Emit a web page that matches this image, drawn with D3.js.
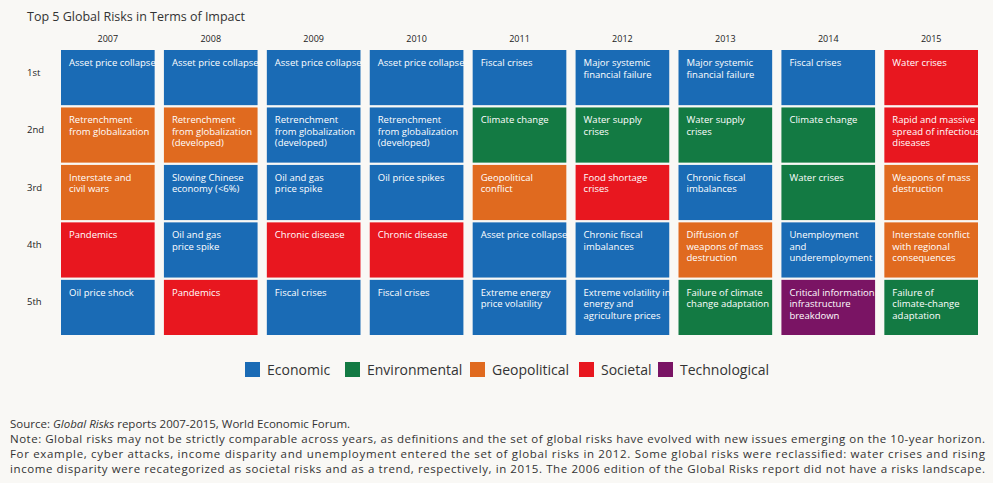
<!DOCTYPE html>
<html><head><meta charset="utf-8">
<script src="https://cdn.jsdelivr.net/npm/d3@7"></script>
<style>
body{margin:0;background:#f9f8f5;font-family:"Liberation Sans Narrow","Open Sans",sans-serif;}
</style></head><body>
<svg id="chart" width="993" height="483"></svg>
<script>
var years = ["2007","2008","2009","2010","2011","2012","2013","2014","2015"];
var ranks = ["1st","2nd","3rd","4th","5th"];
var categories = ["Economic","Environmental","Geopolitical","Societal","Technological"];
var colors = ["#1a6bb5","#137a43","#e06a1f","#e8171f","#7a1464"];
// [year, rank, category, label lines]
var risks = [
["2007","1st","Economic",["Asset price collapse"]],
["2007","2nd","Geopolitical",["Retrenchment","from globalization"]],
["2007","3rd","Geopolitical",["Interstate and","civil wars"]],
["2007","4th","Societal",["Pandemics"]],
["2007","5th","Economic",["Oil price shock"]],
["2008","1st","Economic",["Asset price collapse"]],
["2008","2nd","Geopolitical",["Retrenchment","from globalization","(developed)"]],
["2008","3rd","Economic",["Slowing Chinese","economy (<6%)"]],
["2008","4th","Economic",["Oil and gas","price spike"]],
["2008","5th","Societal",["Pandemics"]],
["2009","1st","Economic",["Asset price collapse"]],
["2009","2nd","Economic",["Retrenchment","from globalization","(developed)"]],
["2009","3rd","Economic",["Oil and gas","price spike"]],
["2009","4th","Societal",["Chronic disease"]],
["2009","5th","Economic",["Fiscal crises"]],
["2010","1st","Economic",["Asset price collapse"]],
["2010","2nd","Economic",["Retrenchment","from globalization","(developed)"]],
["2010","3rd","Economic",["Oil price spikes"]],
["2010","4th","Societal",["Chronic disease"]],
["2010","5th","Economic",["Fiscal crises"]],
["2011","1st","Economic",["Fiscal crises"]],
["2011","2nd","Environmental",["Climate change"]],
["2011","3rd","Geopolitical",["Geopolitical","conflict"]],
["2011","4th","Economic",["Asset price collapse"]],
["2011","5th","Economic",["Extreme energy","price volatility"]],
["2012","1st","Economic",["Major systemic","financial failure"]],
["2012","2nd","Environmental",["Water supply","crises"]],
["2012","3rd","Societal",["Food shortage","crises"]],
["2012","4th","Economic",["Chronic fiscal","imbalances"]],
["2012","5th","Economic",["Extreme volatility in","energy and","agriculture prices"]],
["2013","1st","Economic",["Major systemic","financial failure"]],
["2013","2nd","Environmental",["Water supply","crises"]],
["2013","3rd","Economic",["Chronic fiscal","imbalances"]],
["2013","4th","Geopolitical",["Diffusion of","weapons of mass","destruction"]],
["2013","5th","Environmental",["Failure of climate","change adaptation"]],
["2014","1st","Economic",["Fiscal crises"]],
["2014","2nd","Environmental",["Climate change"]],
["2014","3rd","Environmental",["Water crises"]],
["2014","4th","Economic",["Unemployment","and","underemployment"]],
["2014","5th","Technological",["Critical information","infrastructure","breakdown"]],
["2015","1st","Societal",["Water crises"]],
["2015","2nd","Societal",["Rapid and massive","spread of infectious","diseases"]],
["2015","3rd","Geopolitical",["Weapons of mass","destruction"]],
["2015","4th","Geopolitical",["Interstate conflict","with regional","consequences"]],
["2015","5th","Environmental",["Failure of","climate-change","adaptation"]]
];
var notes = [
"Note: Global risks may not be strictly comparable across years, as definitions and the set of global risks have evolved with new issues emerging on the 10-year horizon.",
"For example, cyber attacks, income disparity and unemployment entered the set of global risks in 2012. Some global risks were reclassified: water crises and rising",
"income disparity were recategorized as societal risks and as a trend, respectively, in 2015. The 2006 edition of the Global Risks report did not have a risks landscape."
];

var svg = d3.select("#chart");
var x = d3.scaleBand().domain(years).range([61, 978]).paddingInner(0.09).paddingOuter(0);
var y = d3.scaleBand().domain(ranks).range([50, 335]).paddingInner(0.04).paddingOuter(0);
var color = d3.scaleOrdinal().domain(categories).range(colors);

svg.append("text").attr("x", 27).attr("y", 21).attr("font-size", 12.5).attr("fill", "#333")
  .attr("font-family", "Open Sans, sans-serif").text("Top 5 Global Risks in Terms of Impact");

svg.selectAll(".yr").data(years).enter().append("text")
  .attr("x", d => x(d) + x.bandwidth() / 2).attr("y", 42).attr("text-anchor", "middle")
  .attr("font-size", 9).attr("fill", "#222").text(d => d);

svg.selectAll(".rk").data(ranks).enter().append("text")
  .attr("x", 27).attr("y", d => y(d) + y.bandwidth() / 2 - 2).attr("font-size", 9.5)
  .attr("fill", "#222").text(d => d);

var cell = svg.selectAll(".cell").data(risks).enter().append("g")
  .attr("transform", d => "translate(" + x(d[0]) + "," + y(d[1]) + ")");
cell.append("rect").attr("width", x.bandwidth()).attr("height", y.bandwidth())
  .attr("fill", d => color(d[2]));
cell.append("text").attr("fill", "#fff").attr("font-size", 9.5)
  .selectAll("tspan").data(d => d[3]).enter().append("tspan")
  .attr("x", 8).attr("y", (d, i) => 16 + i * 11.5).text(d => d);

var leg = svg.selectAll(".leg").data(categories).enter().append("g")
  .attr("transform", (d, i) => "translate(" + [245, 345, 470, 579, 658][i] + ",362)");
leg.append("rect").attr("width", 15).attr("height", 15).attr("fill", d => color(d));
leg.append("text").attr("x", 22).attr("y", 12.5).attr("font-size", 14)
  .attr("font-family", "Open Sans, sans-serif").attr("fill", "#333").text(d => d);

var src = svg.append("text").attr("x", 10).attr("y", 428).attr("font-size", 11.5)
  .attr("font-family", "Open Sans, sans-serif").attr("fill", "#333");
src.append("tspan").text("Source: ");
src.append("tspan").attr("font-style", "italic").text("Global Risks");
src.append("tspan").text(" reports 2007-2015, World Economic Forum.");
svg.selectAll(".note").data(notes).enter().append("text")
  .attr("x", 10).attr("y", (d, i) => 443 + i * 15).attr("font-size", 11.5)
  .attr("font-family", "Open Sans, sans-serif").attr("fill", "#333")
  .attr("textLength", d => d.length > 160 ? 975 : null).text(d => d);
</script></body></html>
